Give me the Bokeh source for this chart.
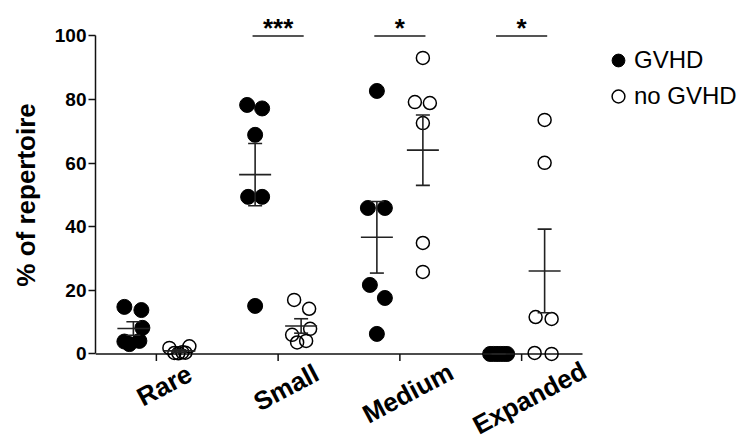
import math
import numpy as np
from bokeh.plotting import figure
from bokeh.models import Range1d, FixedTicker, Legend, LegendItem, ColumnDataSource, Title
from bokeh.core.properties import value
from bokeh.embed import file_html
from bokeh.resources import INLINE

# ---------------- data ----------------
categories = ["Rare", "Small", "Medium", "Expanded"]
significance = ["", "***", "*", "*"]

gvhd_rare = [14.8, 13.8, 8.2, 3.9, 3.1, 4.1]
gvhd_small = [78.3, 77.2, 68.9, 49.4, 49.4, 15.1]
gvhd_medium = [82.7, 45.9, 45.9, 21.7, 17.6, 6.3]
gvhd_expanded = [0.0, 0.0, 0.0, 0.0, 0.0, 0.0]

nogvhd_rare = [1.9, 0.3, 0.2, 0.5, 0.4, 2.4]
nogvhd_small = [17.0, 14.2, 7.9, 6.0, 3.6, 4.1]
nogvhd_medium = [93.1, 79.2, 78.9, 72.6, 34.9, 25.8]
nogvhd_expanded = [73.6, 60.1, 11.6, 11.0, 0.3, 0.0]

# horizontal scatter spread of each point (pixels) - layout only
gvhd_spread = [
    [-9, 8, 9, -9, -4, 6],
    [-8, 7, 0, -7, 7, 0],
    [0, -9, 8, -7, 8, 0],
    [-8.5, -5.1, -1.7, 1.7, 5.1, 8.5],
]
nogvhd_spread = [
    [-10, -5, -1, 3, 6, 10],
    [-7, 8, 9, -9, -4, 5],
    [0, -8, 7, 0, 0, 0],
    [0, 0, -9, 7, -10, 7],
]

gvhd = [gvhd_rare, gvhd_small, gvhd_medium, gvhd_expanded]
nogvhd = [nogvhd_rare, nogvhd_small, nogvhd_medium, nogvhd_expanded]

# ---------------- layout ----------------
FONT = "Liberation Sans"
W, H = 745, 440
LEFT, RIGHT, TOP, BOTTOM = 95, 2, 10, 0
frame_w = W - LEFT - RIGHT
frame_h = H - TOP - BOTTOM
n_cat = len(categories)
px_per_x = 487.0 / n_cat          # width of one category slot
u_per_px = 1.0 / px_per_x
x_end = frame_w / px_per_x
px_per_y = 3.18
y_end = 108.0
y_start = y_end - frame_h / px_per_y
group_off = 23 * u_per_px

cat_pos = [i + 0.5 for i in range(n_cat)]

p = figure(width=W, height=H, x_range=Range1d(0, x_end), y_range=Range1d(y_start, y_end),
           output_backend="svg", toolbar_location=None, x_axis_location=None,
           min_border_left=LEFT, min_border_right=RIGHT,
           min_border_top=TOP, min_border_bottom=BOTTOM)
p.outline_line_color = None
p.xgrid.visible = False
p.ygrid.visible = False
p.background_fill_color = "white"

AX = "#111111"
ya = p.yaxis[0]
ya.ticker = FixedTicker(ticks=[0, 20, 40, 60, 80, 100])
ya.bounds = (0, 100)
ya.major_tick_out = 7
ya.major_tick_in = 0
ya.minor_tick_out = 0
ya.minor_tick_in = 0
ya.axis_line_width = 1.5
ya.major_tick_line_width = 1.5
ya.axis_line_color = AX
ya.major_tick_line_color = AX
ya.major_label_standoff = 2
ya.major_label_text_font = FONT
ya.major_label_text_font_style = "bold"
ya.major_label_text_font_size = "19px"
ya.major_label_text_color = "black"

bold_w = {"R": .722, "a": .556, "r": .389, "e": .556, "S": .667, "m": .889, "l": .278,
          "M": .833, "d": .611, "i": .278, "u": .611, "E": .667, "x": .556, "p": .611,
          "n": .611, "%": .889, " ": .278, "o": .611, "f": .333, "t": .333}

def text_len(s, size):
    return sum(bold_w.get(ch, 0.6) for ch in s) * size

# y axis title, centred on the 0-100 span
ytext = "% of repertoire"
ysize = 26
title_shift = (50 - y_start) * px_per_y - text_len(ytext, ysize) / 2
ytitle = Title(text=ytext, align="left", vertical_align="top", offset=title_shift,
               text_font=FONT, text_font_style="bold", text_font_size=f"{ysize}px",
               text_color="black", standoff=18)
p.add_layout(ytitle, "left")

# x axis line at y = 0 and category ticks
p.segment(x0=[0], y0=[0], x1=[n_cat], y1=[0], line_color=AX, line_width=1.5)
tick_len = 7 / px_per_y
p.segment(x0=cat_pos, y0=[0] * n_cat, x1=cat_pos, y1=[-tick_len] * n_cat,
          line_color=AX, line_width=1.5)

# ---------------- points ----------------
def build(groups, spreads, sign):
    xs, ys = [], []
    for c, vals, spr in zip(cat_pos, groups, spreads):
        for v, s in zip(vals, spr):
            xs.append(c + sign * group_off + s * u_per_px)
            ys.append(v)
    return ColumnDataSource(dict(x=xs, y=ys))

src_g = build(gvhd, gvhd_spread, -1)
src_n = build(nogvhd, nogvhd_spread, +1)

r_g = p.scatter("x", "y", source=src_g, marker="circle", size=15,
                fill_color="black", line_color="black", line_width=1)
r_n = p.scatter("x", "y", source=src_n, marker="circle", size=13,
                fill_color=None, line_color="black", line_width=1.5)

# ---------------- mean +/- SEM ----------------
mean_hw = 16 * u_per_px
cap_hw = 7 * u_per_px
x0s, y0s, x1s, y1s = [], [], [], []
for c, g_vals, n_vals in zip(cat_pos, gvhd, nogvhd):
    for sign, vals in ((-1, g_vals), (1, n_vals)):
        arr = np.array(vals, dtype=float)
        m = arr.mean()
        sem = arr.std(ddof=1) / math.sqrt(len(arr))
        cx = c + sign * group_off
        x0s.append(cx); y0s.append(m - sem); x1s.append(cx); y1s.append(m + sem)
        x0s.append(cx - mean_hw); y0s.append(m); x1s.append(cx + mean_hw); y1s.append(m)
        for yy in (m - sem, m + sem):
            x0s.append(cx - cap_hw); y0s.append(yy); x1s.append(cx + cap_hw); y1s.append(yy)
p.segment(x0=x0s, y0=y0s, x1=x1s, y1=y1s, line_color="#222222", line_width=1.6)

# ---------------- significance ----------------
sig_hw = 0.21
sx0, sx1, sy, tx, tt = [], [], [], [], []
for c, s in zip(cat_pos, significance):
    if s:
        sx0.append(c - sig_hw); sx1.append(c + sig_hw); sy.append(100)
        tx.append(c); tt.append(s)
p.segment(x0=sx0, y0=sy, x1=sx1, y1=sy, line_color="#555555", line_width=2)
p.text(x=tx, y=[100] * len(tx), text=tt, text_font=value(FONT), text_font_style="bold",
       text_font_size="26px", text_align="center", text_baseline="alphabetic",
       y_offset=-8, text_color="black")

# ---------------- rotated category labels ----------------
lab_size = 26
ang = math.radians(28)
drops = []
for name in categories:
    L = text_len(name, lab_size)
    drops.append(20.5 + 0.4 * L * math.sin(ang))
p.text(x=cat_pos, y=[0] * n_cat, text=categories, angle=ang,
       x_offset=8, y_offset=drops, text_align="center", text_baseline="middle",
       text_font=value(FONT), text_font_style="bold", text_font_size=f"{lab_size}px",
       text_color="black")

# ---------------- legend ----------------
legend = Legend(items=[LegendItem(label="GVHD", renderers=[r_g]),
                       LegendItem(label="no GVHD", renderers=[r_n])],
                location=(507, 328), orientation="vertical",
                glyph_width=32, glyph_height=32, label_standoff=0, spacing=4,
                padding=0, margin=0, border_line_color=None,
                background_fill_alpha=0, label_text_font=FONT,
                label_text_font_size="24px", label_text_color="black")
p.add_layout(legend)

open("out.html", "w").write(file_html(p, INLINE))
